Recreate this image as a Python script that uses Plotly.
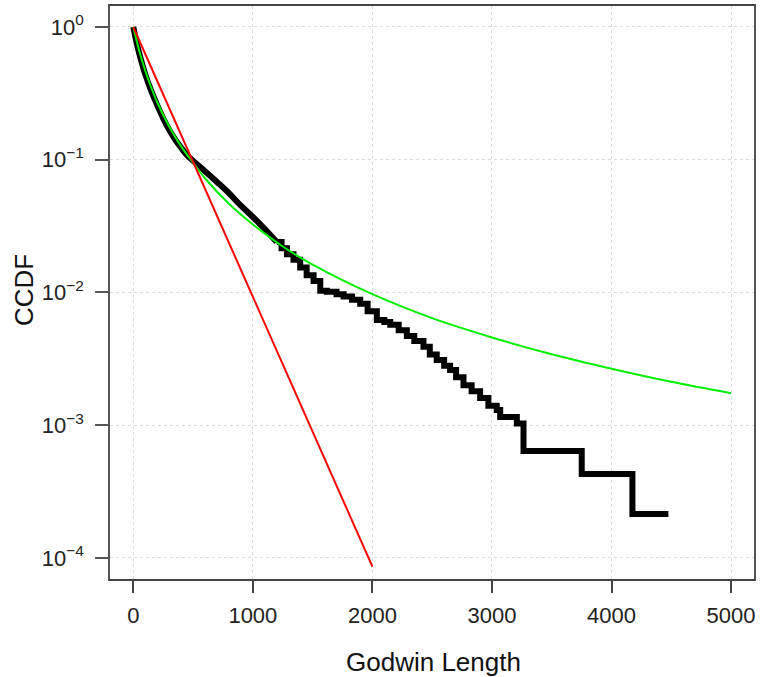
import plotly.graph_objects as go

# Empirical CCDF (black) - dense upper part (appears smooth)
emp_head_x = [0, 25, 50, 100, 150, 200, 250, 300, 350, 400, 450, 500, 600, 700, 800, 900,
              1000, 1100, 1200]
emp_head_y = [1.0, 0.78, 0.63, 0.44, 0.33, 0.258, 0.205, 0.168, 0.142, 0.123, 0.108, 0.098,
              0.082, 0.068, 0.056, 0.045, 0.037, 0.030, 0.024]

# Empirical CCDF (black) - stepped tail
emp_tail_x = [1200, 1240, 1285, 1340, 1396, 1450, 1508, 1564, 1619, 1700, 1759, 1830, 1898,
              1960, 2037, 2100, 2149, 2220, 2288, 2350, 2427, 2480, 2538, 2600, 2650, 2700,
              2762, 2830, 2901, 2970, 3040, 3069, 3208, 3264, 3751, 4175, 4476]
emp_tail_y = [0.024, 0.0215, 0.0194, 0.0176, 0.0154, 0.0135, 0.0122, 0.0103, 0.0101, 0.0097,
              0.0093, 0.0088, 0.0082, 0.0072, 0.0062, 0.0060, 0.0057, 0.0052, 0.0047, 0.0043,
              0.0039, 0.0034, 0.0031, 0.0028, 0.0026, 0.0023, 0.0020, 0.0018, 0.0016, 0.0014,
              0.0013, 0.00115, 0.00103, 0.00064, 0.000428, 0.000214, 0.000214]

# Heavy-tailed fit (green)
fit_x = [0, 50, 100, 150, 200, 300, 400, 500, 600, 800, 1000, 1250, 1500, 2000, 2500, 3000,
         3500, 4000, 4500, 5000]
fit_y = [1.0, 0.66, 0.468, 0.35, 0.271, 0.178, 0.126, 0.095, 0.0725, 0.0465, 0.0325, 0.0222,
         0.0162, 0.0097, 0.0064, 0.00458, 0.00342, 0.00266, 0.00212, 0.00174]

# Exponential fit (red)
exp_x = [0, 2000]
exp_y = [1.0, 8.6e-5]

x_ticks = [0, 1000, 2000, 3000, 4000, 5000]
y_ticks = [1, 0.1, 0.01, 0.001, 0.0001]
y_tick_text = ["10<sup>0</sup>", "10<sup>\u22121</sup>", "10<sup>\u22122</sup>",
               "10<sup>\u22123</sup>", "10<sup>\u22124</sup>"]

fig = go.Figure()
fig.add_trace(go.Scatter(x=emp_head_x, y=emp_head_y, mode="lines",
                         line=dict(color="black", width=6, shape="spline"), showlegend=False))
fig.add_trace(go.Scatter(x=emp_tail_x, y=emp_tail_y, mode="lines",
                         line=dict(color="black", width=6, shape="hv"), showlegend=False))
fig.add_trace(go.Scatter(x=fit_x, y=fit_y, mode="lines",
                         line=dict(color="#00ee00", width=2, shape="spline"), showlegend=False))
fig.add_trace(go.Scatter(x=exp_x, y=exp_y, mode="lines",
                         line=dict(color="#ff0000", width=2), showlegend=False))

font_family = "Liberation Sans, Arial, sans-serif"
fig.update_layout(
    width=760, height=677,
    margin=dict(l=110, r=6, t=4, b=98),
    plot_bgcolor="white", paper_bgcolor="white",
    font=dict(family=font_family, color="#222", size=22),
    xaxis=dict(range=[-195, 5192], tickvals=x_ticks, ticktext=[str(v) for v in x_ticks],
               showgrid=True, gridcolor="#dcdcdc", griddash="dot", gridwidth=1,
               ticks="outside", ticklen=12, tickcolor="#444", tickwidth=1.5,
               showline=True, linecolor="#444", linewidth=1.5, mirror=True, zeroline=False,
               tickfont=dict(size=22, family=font_family), ticklabelstandoff=4),
    yaxis=dict(type="log", range=[-4.159, 0.158], tickvals=y_ticks, ticktext=y_tick_text,
               showgrid=True, gridcolor="#dcdcdc", griddash="dot", gridwidth=1,
               ticks="outside", ticklen=13, tickcolor="#555", tickwidth=1.5,
               showline=True, linecolor="#555", linewidth=1.5, mirror=True, zeroline=False,
               tickfont=dict(size=22, family=font_family), ticklabelstandoff=7),
    annotations=[
        dict(text="Godwin Length", xref="paper", yref="paper", x=(433 - 110) / 644, y=0,
             yshift=-83, showarrow=False, xanchor="center", yanchor="middle",
             font=dict(size=26, family=font_family, color="#111")),
        dict(text="CCDF", xref="paper", yref="paper", x=0, y=(579 - 289) / 575,
             xshift=-86, showarrow=False, textangle=-90, xanchor="center", yanchor="middle",
             font=dict(size=26, family=font_family, color="#111")),
    ],
)

fig.write_html("out.html", config={"displayModeBar": False},
               post_script="document.body.style.margin='0';")
